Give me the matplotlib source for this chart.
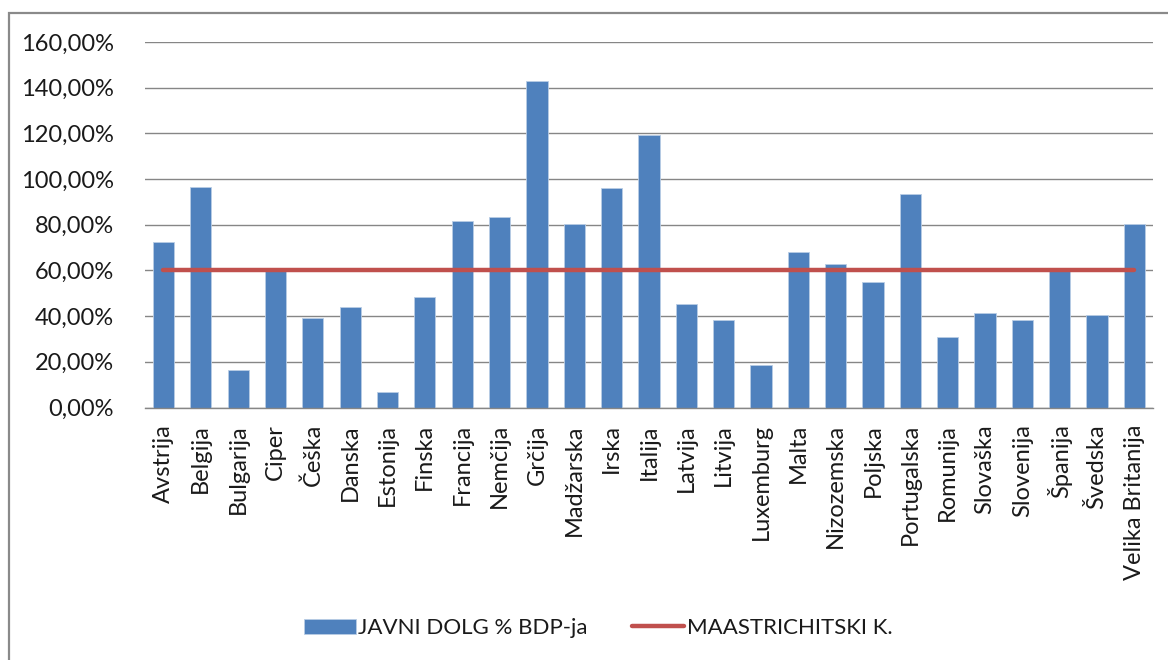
import matplotlib
matplotlib.use("Agg")
import matplotlib.pyplot as plt
from matplotlib.patches import Rectangle
from matplotlib.ticker import FuncFormatter, MultipleLocator

plt.rcParams['font.family'] = ['Lato', 'DejaVu Sans']

countries = ["Avstrija", "Belgija", "Bulgarija", "Ciper", "Češka", "Danska",
             "Estonija", "Finska", "Francija", "Nemčija", "Grčija", "Madžarska",
             "Irska", "Italija", "Latvija", "Litvija", "Luxemburg", "Malta",
             "Nizozemska", "Poljska", "Portugalska", "Romunija", "Slovaška",
             "Slovenija", "Španija", "Švedska", "Velika Britanija"]

# public debt as share of GDP (%)
debt = [72.5, 96.6, 16.3, 60.2, 39.0, 43.9,
        6.8, 48.5, 81.6, 83.2, 142.9, 80.3,
        96.1, 119.1, 45.1, 38.2, 18.5, 67.9,
        62.9, 55.0, 93.3, 30.9, 41.2,
        38.2, 60.1, 40.3, 80.2]

# Maastricht criterion (%)
maastricht = [60.0, 60.0, 60.0, 60.0, 60.0, 60.0, 60.0, 60.0, 60.0,
              60.0, 60.0, 60.0, 60.0, 60.0, 60.0, 60.0, 60.0, 60.0,
              60.0, 60.0, 60.0, 60.0, 60.0, 60.0, 60.0, 60.0, 60.0]

bar_label = "JAVNI DOLG % BDP-ja"
line_label = "MAASTRICHITSKI K."

W, H = 1168, 660
fig = plt.figure(figsize=(W / 100, H / 100), dpi=100)
fig.patch.set_facecolor("white")

left, right = 144.8, 1153.0
top, bottom = 42.0, 407.5
ax = fig.add_axes([left / W, 1 - bottom / H, (right - left) / W, (bottom - top) / H])

x = list(range(len(countries)))
bars = ax.bar(x, debt, width=0.57, color="#4F81BD", edgecolor="#B9CDE5",
              linewidth=0.6, label=bar_label, zorder=2)
line, = ax.plot(x, maastricht, color="#C0504D", linewidth=3.2,
                solid_capstyle="round", label=line_label, zorder=3)

ax.set_xlim(-0.5, len(countries) - 0.5)
ax.set_ylim(0, 160)
ax.yaxis.set_major_locator(MultipleLocator(20))
ax.yaxis.set_major_formatter(FuncFormatter(lambda v, p: f"{v:.2f}".replace(".", ",") + "%"))

ax.grid(axis="y", color="#868686", linewidth=1.0, zorder=0)
ax.set_axisbelow(True)
for s in ("top", "right", "left"):
    ax.spines[s].set_visible(False)
ax.spines["bottom"].set_color("#868686")
ax.spines["bottom"].set_linewidth(1.0)

ax.set_xticks(x)
ax.set_xticklabels(countries, rotation=90, fontsize=17, color="#1a1a1a")
ax.tick_params(axis="x", length=0, pad=12)
ax.tick_params(axis="y", length=0, pad=22, labelsize=17, labelcolor="#1a1a1a")

fig.legend(handles=[bars, line], labels=[bar_label, line_label], ncol=2,
           loc="center", bbox_to_anchor=(598 / W, 1 - 628 / H),
           frameon=False, fontsize=16, handlelength=2.35, handleheight=0.65,
           handletextpad=0.1, columnspacing=2.0, labelcolor="#1a1a1a")

# outer chart frame
fig.add_artist(Rectangle((9 / W, -0.1), 1.2, (H - 13) / H + 0.1,
                         transform=fig.transFigure, fill=False,
                         edgecolor="#8a8a8a", linewidth=1.6))

fig.savefig("out.png", dpi=100)
